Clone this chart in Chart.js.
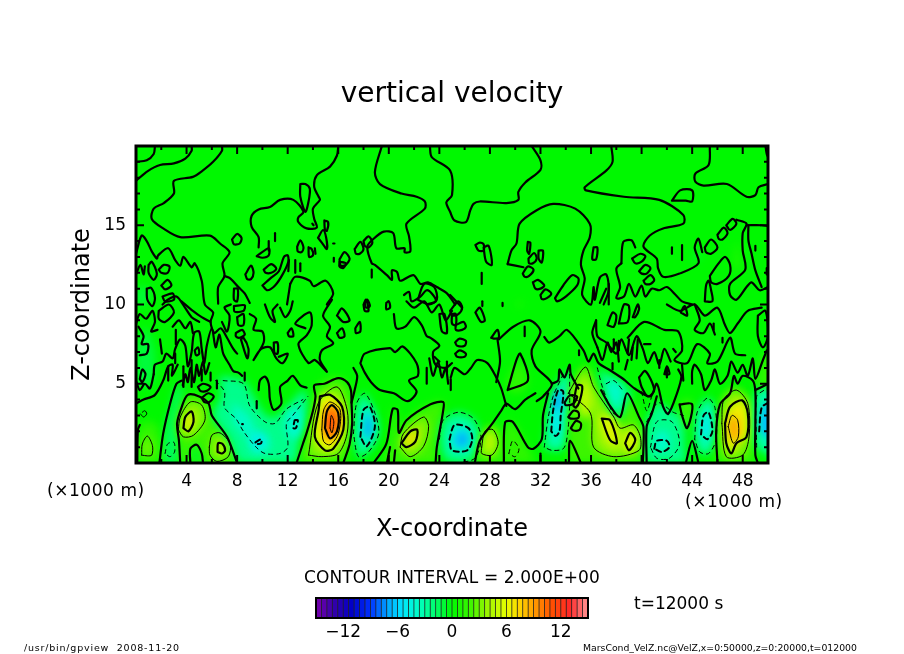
<!DOCTYPE html>
<html><head><meta charset="utf-8">
<script src="https://cdn.jsdelivr.net/npm/chart.js@4/dist/chart.umd.min.js"></script>
<style>
html,body{margin:0;padding:0;background:#fff;width:904px;height:654px;overflow:hidden}
canvas{position:absolute}
.t{position:absolute;font-family:"DejaVu Sans",sans-serif;color:#000;white-space:pre;line-height:1}
</style></head><body>
<canvas id="main" width="904" height="654" style="left:0;top:0;width:904px;height:654px"></canvas>
<canvas id="bar" width="320" height="56" style="left:296px;top:590px;width:320px;height:56px"></canvas>
<div class="t" style="left:47px;top:482px;font-size:17px;letter-spacing:.55px">(×1000 m)</div>
<div class="t" style="left:685px;top:493px;font-size:17px;letter-spacing:.55px">(×1000 m)</div>
<div class="t" style="left:304px;top:569px;font-size:17px;letter-spacing:.1px">CONTOUR INTERVAL = 2.000E+00</div>
<div class="t" style="left:634px;top:595px;font-size:17px">t=12000 s</div>
<div class="t" style="left:24px;top:643px;font-size:9.5px;letter-spacing:.8px">/usr/bin/gpview  2008-11-20</div>
<div class="t" style="left:583px;top:643px;font-size:9.3px">MarsCond_VelZ.nc@VelZ,x=0:50000,z=0:20000,t=012000</div>
<script>
// ---- axes ----
const xRange=[0,50], zRange=[0,20];
const xLabelEvery=4, zLabelEvery=5;
const barTicks=[-12,-6,0,6,12];
const barLevels=[-14.7,-14.1,-13.5,-12.9,-12.3,-11.7,-11.1,-10.5,-9.9,-9.3,-8.7,-8.1,-7.5,-6.9,-6.3,-5.7,-5.1,-4.5,-3.9,-3.3,-2.7,-2.1,-1.5,-0.9,-0.3,0.3,0.9,1.5,2.1,2.7,3.3,3.9,4.5,5.1,5.7,6.3,6.9,7.5,8.1,8.7,9.3,9.9,10.5,11.1,11.7,12.3,12.9,13.5,14.1,14.7];
// ---- colour scale: velocity, r, g, b ----
const colorStops=[[-15,120,0,170],[-13,50,0,170],[-11,0,0,200],[-9,0,50,255],[-7,0,170,255],[-5.5,0,230,255],[-3.5,0,255,190],[-1.5,0,252,90],[0,0,248,0],[2,60,245,0],[4,160,245,0],[6,230,255,0],[7.5,255,210,0],[9.5,255,140,0],[11,255,80,0],[13,255,40,40],[15,255,150,150]];
// ---- colour field: level of each region, region outline (x km, z km) ----
const fieldLevels=[0,-1,-1,-1,1,1,-1.5,1.5,3,2,-.5,3.5,6.5,3,6,-2.5,-3.8,-4,-5,2,3.5,6,7.5,9.5,11,12,-2.5,-4.5,-7.5,2,1.5,3.5,7,-2.5,-4.5,-7,1.5,2,4.5,-1.5,1.5,-3,-5.5,-7.5,2,3.5,5,4.5,4.5,6.5,6.5,-2.5,-4,-2.5,-4,2,-3,-5,2,3.5,6.5,9,-3,-6.5,1.5];
const fieldShapes=[
[-5,-5,55,-5,55,25,-5,25],
[0,7,.7,8.5,1.5,7,1.2,5,.2,5],[0,10,0,11,1,11,.8,10],[44,12.7,44.4,13.5,44.6,12.9],
[47.2,12.5,47.5,14,47.8,13,47.7,12],[30,10,30.5,10.3,30.5,9.8],
[2,0,2.2,1.8,2.8,3.7,3.3,5,3.7,4.4,3.4,2.5,3.4,0],
[.2,0,.2,2.2,.8,2.6,1.6,2.4,2,1,1.9,0],
[.45,.5,.5,1.2,.9,1.7,1.3,1.1,1.25,.5,.9,.45],
[3.5,0,3.4,1.4,3.25,2.5,3.6,3.5,4.1,4.3,5,4.2,5.75,3.75,6,3,7.2,1.65,8,0],
[4.3,0,4.3,.9,4.8,1.15,5.2,.6,5.3,0],
[3.35,2.1,3.5,2.9,4.3,3.85,5.2,3.65,5.45,2.7,4.55,1.75,3.75,1.65],
[3.75,2.2,3.9,2.9,4.4,3.25,4.55,2.6,4.15,2],
[5.8,1,6,1.75,6.65,1.9,7.45,1.2,7.3,.4,6.4,.1,5.85,.5],
[6.45,.7,6.5,1.25,6.85,1.2,7.05,.8,6.8,.6],
[6.6,5.5,8.5,5.2,9.3,4.2,10.3,3,11,2.9,12,3.6,13.3,4.6,13.6,3.5,13,1.8,12.5,0,8.3,0,7.3,1.6,6.1,3,6.7,4.2],
[7.6,3.8,8.9,3,9.4,2.2,10,1.8,10.5,1.6,10.5,.8,9.3,.6,8.7,1.6,7.8,2.5],
[11.9,3.2,12.9,3.5,13.2,2,12.4,1.5,11.9,2],
[9.2,1.6,9.9,1.9,10.2,1.3,9.4,.9],
[12.9,0,13.5,1.9,14,3.3,14.3,4.8,16,5.4,17,4.6,17.05,3.8,17.1,2.5,16.9,1.2,16.4,0],
[13.65,.5,14.4,3.75,15.9,4.8,16.7,3.35,16.7,1.85,16,.6,14.7,.4],
[14.55,4.2,15.35,4.3,16.3,3.55,16.4,2.1,15.6,.9,14.95,.8,14.15,1.65,14.45,3.35],
[14.7,2.1,14.85,3.35,15.35,3.85,16.15,3.35,16,1.85,15.35,1.15,14.85,1.35],
[14.95,2.2,15.1,3.25,15.5,3.65,16,3.15,15.9,2,15.35,1.55],
[15.1,2.4,15.35,3.45,15.75,3,15.6,1.85,15.3,1.8],
[15.35,2.2,15.45,3,15.65,2.6,15.5,1.9],
[17.2,1.85,17.45,3.75,18.1,4.4,18.9,3.15,19.2,1.85,18.4,.7,17.6,.4],
[17.75,1.65,18,3.35,18.5,3.55,18.9,2.3,18.25,1.05],
[18.15,1.9,18.3,3.15,18.6,2.3,18.4,1.5],
[19.5,0,20.8,1.9,21.4,2.7,23.3,3.7,24.3,3.85,24.3,3.3,23.8,1,23.7,0],
[19.9,0,20.3,3.4,20.7,3.35,20.8,0],
[20.9,1,21.15,1.85,22.75,2.9,23.15,2.3,22.75,1.05,21.7,.4],
[21,1.25,21.7,2,22.25,2.1,22.1,1.35,21.4,1],
[24,1.5,24.3,2.7,25.5,3.2,26.7,2.8,27.3,1.6,26.8,.3,25.5,0,24.4,.3],
[24.8,1.5,25.2,2.4,26.3,2.2,26.6,1.5,26.2,.8,25,.8],
[25.2,1.5,25.9,2,26.3,1.4,25.7,1],
[29.2,4.9,30.3,6.4,31,5,30,4.4],
[26.8,0,27.2,1.4,28.2,2.5,29,1.5,29,0],
[27.35,1,27.6,2,28.25,2.1,28.65,1.25,28.15,.5,27.35,.6],
[29.5,.6,29.8,1.4,30.3,.9,30,.4],
[29.1,0,29.2,2.5,29.9,2.5,31,1,31.5,0],
[32.3,1,32.6,2.8,33,4.2,33.8,5.6,34.3,5.6,34.3,3.5,34.1,1.6,33.8,.9,32.9,.8],
[32.85,2,33,3.3,33.4,4.6,33.8,4.5,33.6,3,33.5,2,33.2,1.7],
[33,3.4,33.3,4.6,33.6,4.4,33.4,3.4],
[34.3,0,34.2,3,34.8,5,35.7,6,36.4,5,37.2,3.2,38.3,2.8,38.9,4.2,40,2.5,40.1,0],
[34.2,4.4,35.55,6.05,36.2,4.8,37.8,2.9,38.3,2.2,39.35,2.4,39.9,1.65,39.8,.8,37.8,.4,36.2,1,35.95,3.15],
[35,4.2,35.5,5.3,36,4.2,35.8,2.9,35.2,3],
[36.4,3,37.7,3,38.5,1.4,38,.8,37,1.3],
[38.3,1.5,39,2.2,39.8,1.4,39,.5],
[36.85,2.8,37.5,2.7,38.05,1.25,37.5,1.45],
[38.7,1.25,39.1,1.9,39.5,1.45,39,.8],
[36.5,6,38.2,5.2,39.2,4.4,38.85,3.9,38.3,2.9,37.7,3.2,36.9,4.8],
[37.2,5,37.8,5.2,38.5,4.6,38,3.4,37.6,4],
[40.3,0,40.4,2.6,41.3,3.8,42.5,3.2,43.3,3,43.4,1,43.4,0],
[41,.9,41.2,1.9,42,2,42.2,1,41.6,.7],
[43.05,3.9,44,3.9,43.7,2.2,43.3,2.5],
[44.2,1.5,44.4,3.2,45.2,4.1,45.8,3.5,45.9,1.5,45.3,.6,44.6,.7],
[44.7,1.8,44.9,3,45.3,3.2,45.6,2,45.2,1.5],
[45.9,0,45.9,2,46.3,3.8,47.1,4.7,48.2,4.4,48.9,3.5,48.9,.5,48.7,0],
[46.35,2.5,46.5,4,47.5,4.6,48.4,3.75,48.5,1.65,48,.5,46.7,.4],
[46.6,2.5,47,3.55,47.95,3.95,48.4,3.15,48.3,1.65,47.5,1.25,47.1,.6,46.7,1.25],
[46.85,2.3,47.15,3,47.6,2.7,47.65,1.65,47.25,1.25],
[49,1,49,4.4,49.6,4.8,50.5,4.8,50.5,.5],
[49.3,2,49.5,3.5,50,3.8,50.5,3,50.5,1.5],
[49,4.8,49.6,6.8,50.5,6.8,50.5,5]
];
// ---- contour lines (x km, z km) ----
const upperLines=[
[0,19,.85,19.1,1.4,19.5,1.5,20],
[0,17.8,.9,18.4,1.9,18.8,3,18.9,3.9,19.2,4.4,19.7,4.4,20],
[6.8,20,6.8,19.7,6.1,19,5.2,18.4,4.5,18.05,3,17.8,3,17,2.2,16.4,1.4,16.05,1.25,15.4,2.15,14.8,3.5,14.25,5.85,14.35,6.65,13.85,7.4,13.3,6.85,12.6,7,11.8,6.5,11.1,6.5,10.05],
[7,11.8,7.45,11.65,8.1,11.1,8.6,10.7,9,10.1],
[9.7,13.6,9.7,14.25,9.15,14.9,9.15,15.6,9.7,16,10.6,16.15,11.4,16.6,12.45,16.6,13.25,15.85,12.85,15.5,12.85,15.2,13.5,14.8,14.3,14.85,14.1,15.4,14,16.05,14.55,16.6,14.45,16.8,14.1,17.4,14.3,18.15,15.35,18.7,15.9,19.4,16,20],
[19.45,20,18.9,18.35,19.3,17.6,21,17,22.2,16.8,22.85,16.5,22.85,16.05,21.4,15.1,21.6,14.3,21.7,13.35,21.25,13.3,21.25,13.55,20.6,13.55,20.35,14.5,19.6,14.6,18.8,14.15,18.3,13.65,18.65,12.6,18.9,12.5,19.85,11.85,20.25,11.55,20.25,12.15,20.65,12.05,20.9,11.5,21.95,11.85,22.5,11.3,23.1,11.4,23.8,11.1,24.6,10.7,25.25,10],
[23.25,20,23.4,19.3,24.85,18.45,25,16.9,24.55,16.45,24.85,15.85,25.2,15.3,26.1,15.2,26.45,15.95,26.7,16.35,27.2,16.5,29.3,16.4,30.25,16.6,30.25,17.1,30.8,17.7,32,18.5,32,19.1,31.3,20],
[29.4,12.55,29.7,13.4,30.1,13.85,30.35,15.1,31.7,15.95,33,16.35,34.75,16.05,35.9,15.1,35.9,14.25,35.4,13.4,35.2,12.5,35.5,11.65,35.3,10.6,36,10,36.2,11.1,36.3,10.3,36.7,11.7,37.2,11.9,37.4,10.9,37,10],
[29.4,12.55,30.65,12.35],
[37.6,20,37.7,19,37.2,18.45,35.5,17.4,35.6,17.2,38.6,16.8,41.4,16.6,43.3,15.65,43.3,15.1,41.7,14.8,40.65,14.35,40.15,13.65,41.2,12.9,41.3,12.3,41.7,11.75,43,11.95,44.5,12.6,44.2,13.6,44.5,14.15,44.8,13.3],
[45.4,20,45.3,18.8,44.25,18.25,44.25,17.75,44.9,17.5,46.75,17.6,48.3,16.8,49,16.9,49.25,17.4,50,17.6],
[49.8,20,49.9,19.5,50,19.3],
[47.5,15.35,48.3,15.1,48,14.5,48,13.4,48.2,12.2,47,11.3,47,10.6,47.5,10.3,48.3,11.1,48.7,11.4,49.35,10.9,50,11.1],
[48.3,15,49.5,15,50,14.95],
[48.45,15,48.45,14.05,48.7,13.2,49,12.15,49.5,11.1],
[38.4,12.6,38.55,13.95,39.2,14.05,39.5,13.6],
[38.4,12.6,38,12.25,38.3,11.1,38,10.4,38.6,10.5,39,11.3,39.5,10.5,40,11.2,40.3,10.5,40.8,11,41.4,10.9,42,11.1,42.7,10.6,43.2,10.2,44,10],
[12.2,11.3,12.6,11.75,13.75,11.5,14.05,11.15,15,11.5,15.6,10.7,15.1,10,15.5,10.3,14.8,9.3,15.35,8.6,15.1,8,15.6,7.55,14.7,7.1,14.55,6.5,15.1,5.75,14.15,6.5,13.65,6.3,12.85,7.5,13.5,8.05,13.9,8.7,13.75,9.5,12.6,8.8,13.4,8.5],
[12.2,11.3,11.95,10],
[0,13.2,.45,14.35,.85,14,1.25,13.35,1.65,12.9,1.75,13.1,2.55,13.55,3.1,12.8,3.5,12.45,3.75,13,4.4,12.35,4.65,12.6,5.2,11.5,5.45,10,6.1,9.5,5.9,8.9,6.2,8.2,6.7,8.5,7.2,7.9,7.7,7.2,8,6.9],
[0,11.9,.35,12.5,.6,11.9,.7,12.4],
[21.2,10.6,21.6,10.8,21.8,10.2,22.5,10.5,23,10.9,23.5,10.6,23.7,10.2,23,10],
[24.85,10.6,25.8,9.8]
];
const middleLines=[
[0,3.75,.6,4,1.5,4.3,2.15,5.2,2.55,6.1,2.9,6.2,2.85,5.5,3.3,6.2],
[1.4,5.6,1.5,6.2,2.1,6.4,2.4,6.9,2.9,6.6,3.1,7.2,3.5,7.8,3.9,7.4,4.1,6.1,4.4,7,4.6,8.2,5,8.3,5.2,7.2,5.4,6.3,5.6,7.4,6,8.5,6.3,7.3,6.6,8.1,6.9,6.9,7.4,6.2,7.7,5.8,8.1,5.7,8.4,5.5],
[.2,8.6,.6,8,.45,7.5,.95,7.5,.85,6.9,.3,6.8],
[3.7,4.9,3.9,5.6,4.1,5.1,4.3,6,4.6,5.1,4.8,6.2,5,5.5,5.3,6.4,5.5,5.6,5.8,6.3],
[0,8.8,.3,9.4,.8,9.1,1.3,9.6,1.5,8.9,1.2,8.3,1.7,8.4],
[0,5.2,.3,4.6,.7,5,1.1,4.7,1.4,5.6],
[2.9,8.6,3.4,9,3.9,8.5,4.3,8.9,4.5,8.2],
[6.8,8.9,7.2,8.3,7.4,9.3,7,9.8,7.5,10],
[9,9.4,9.5,9.1,9.3,8.4,10,8.3,10.1,7.6,9.3,6.5,9.9,7.2,10.6,7.3,11.1,6.6,11.6,6.3,12,6.9,11.3,6.7],
[10.2,10,10.6,9.2,11,8.9,10.8,9.6,11.2,10],
[11.4,9.8,11.8,9.2,12.2,9.6,12.4,10.2],
[3.6,10.2,4.5,9.6,5.2,9.2,5.9,8.9],
[2.1,10,2.5,10.3,3.2,10.5,3.8,9.9,4.4,9.2,5,8.9],
[20.4,9.4,20.6,8.5,21.3,8.6,22,9.2,22.6,8.7,23,8,23.3,7.9,24,7.4,23.5,7,23.7,6.2,24.5,6,25,6.3],
[21.4,10.2,22,9.8,22.8,10.2,23.4,9.5,24,10,24.5,9,25,9.6],
[24.9,5.4,25.2,6,26,5.6,26.5,6,27,6.5,27.8,6.3,28.5,5.4,28.9,4.7,29.3,3.6],
[28.7,7.8,29.85,8.6,31.15,9,32,8.3,31.3,7.1,31.6,6.1,32.9,5,32.2,4.2,31.7,3.9],
[28.6,7.8,28.8,6.4,28.5,5.1],
[29.4,4.6,30.1,6.5,30.4,6.9,31,5.2,29.4,4.6],
[32.3,7.95,32.7,7.6,33.5,8,34.1,8.4,35.4,7.1,35.8,6.4,36.2,6.9,36.6,6.3,37.5,5.85,38.55,5.3,39.45,4.7,40.7,4.2,41.2,5,41.7,3.55,42.1,3.1,42.8,4.4,43.15,5.45,42.9,5.9],
[32.9,5,33.4,5.2,33.5,5.9,33.9,5.4,34.3,6.2,34.4,5.6,35,4.7],
[36.4,9,36.1,8.2,36.5,7.3],
[36.4,9,36.5,8,37.2,7.6,38,6.9,38.4,7.8,39,6.8,39.6,8,40.1,7.2,40.5,6.3,41,7,41.4,6.2,41.8,7.2,42.3,6.4],
[38.9,7.9,40.2,8.9,41.8,8.4,42.9,8.3,43.2,7.1,42.6,6.5,43.6,6.3,44.4,7.5,45.4,6.9,45.2,6.3,46,6.4,47,7.9,47.4,6.9,48.2,6.8],
[42,10,43,9.6,44.2,10,45,9.3,46,9.8,46.6,8.7,47,8.2,47.6,8.8,48.4,9.6,49.5,9.8],
[44.2,10,44.6,9,44.2,8.4,44.9,8.2,45.4,8.8,45.8,8.1],
[44,5,44,5.8,44.2,6.2,44.7,5.6,45,4.6,45.5,5.2,45.8,5.9,46.2,5,46.8,5.5,47.1,6.4,47.6,5.7,48,6.2,48.4,5.5,48.8,6.6,49,5.3,49.6,6.5,49.9,7.1],
[36.5,7.3,36.9,6.5,37.3,7.6,37.6,7,38,7.6,38.2,6.4],
[23.2,6.6,23.5,5.5,23.9,6.4,24.2,5.4,24.5,6,24.7,5]
];
const lowerLines=[
[1.85,0,2.15,1.85,2.7,3.75,3.2,5,3.6,5.2],
[3.5,0,3.4,1.4,3.25,2.5,3.6,3.5,4.1,4.3,5,4.2,5.75,3.75,6,3,7.2,1.65,8,0],
[4.3,0,4.3,.9,4.8,1.15,5.2,.6,5.3,0],
[9.7,4.6,9.8,5.2,10.2,5.45,10.5,5,10.6,4,10.9,3.35,11.5,3.75,11.4,4.8,12,5.2,12.4,5.5,13,4.9,13.5,4.75],
[12.7,0,13.2,1.2,13.5,1.9,14,3.3,14.2,4.2,14.1,4.9,14.9,5,16,5.35,16.7,5.1,17,4.6,17.05,3.8,17.1,2.5,16.9,1.2,16.4,0],
[18.8,0,19.8,1.2,20.3,3.4,20.7,3.35,20.8,1.9,21.4,2.7,23.3,3.7,24.3,3.85,24.3,3.3,23.8,1,23.7,0],
[19.85,0,20.1,1],[20.4,0,20.5,.8],
[26.8,0,27.2,1.4,28.2,2.5,28.9,3.3,29.3,3.75,30,3.4,30.8,4,31.6,4.4],
[29.1,0,29.2,2.55,29.8,2.6,31,1,31.45,.9,32.1,1.5,32.2,3,32.6,4.4],
[32,0,32,.6],
[34.25,0,34.35,1.4,35.2,0],
[36.8,4.6,37.5,3.6,38.3,2.9,38.85,4.4,39.8,2.9,40.15,2.25,40.1,0],
[40.4,0,40.4,2.3,40.8,3.1,41.2,4.2],
[43.5,0,44,1.4,44.5,0],
[46,0,45.9,2,46.2,3.7,47,4.4,47.3,5.5,47.6,5,48,5.5,48.8,5.2,49,4.5,49,2.5,49,.5,49.2,0],
[49,4.6,50,5],
[17.05,3.8,17.3,4.6,17.5,5.5,17.2,6],
[.1,0,.15,2.1,.3,2.4]
];
const closedThick=[
[13,17.6,13.4,17.6,13.75,17.3,13.65,16.5,13.4,15.85,13,16.8],
[7.6,14.1,8,14.45,8.35,14.2,8.2,13.85,7.75,13.8],
[12.75,13.65,13,14.05,13.25,13.6,13.1,13.3,12.8,13.35],
[13.65,13.6,13.9,13.5,14,13.1,13.7,13],
[14.9,15.3,15.2,15.2,15.1,14.65,14.95,14.7],
[14.4,14.2,14.8,14.7,15.05,14.2,15.1,13.5,14.7,13.9],
[16.1,12.85,16.5,13.3,16.9,12.9,16.6,12.5,16.2,12.45],
[16.1,12.7,16.6,12.6,16.4,12.3,16.1,12.4],
[17.3,13.5,17.75,13.95,18,13.5,17.7,13.2,17.4,13.2],
[18,14,18.4,14.3,18.7,13.9,18.4,13.6,18.1,13.7],
[1,12.5,1.25,12.7,1.65,11.95,1.4,11.55,1,12],
[1.8,12.2,2.2,12.5,2.65,12.4,2.5,12,2,12],
[2,11.2,2.5,11.55,2.8,11.2,2.3,10.95],
[2.1,10.5,2.9,10.7,3,10.3,2.3,10.2],
[.85,11,1.2,11.05,1.5,10.4,1.3,9.9,.9,10.3],
[7.75,11,8.05,11,8,10.2,7.75,10.3],
[7.75,9.9,8.6,9.95,8.5,9.6,7.8,9.55],
[8.65,11.9,9.1,12.45,9.3,12,9.1,11.6,8.8,11.6],
[9.55,13.05,10.5,13.55,10.5,13.1,10,12.95],
[10.1,12.2,10.7,12.55,11.1,12.25,10.7,12,10.25,12],
[10,11.2,10.7,11.7,11.3,12.1,11.7,13,12,13.1,12.05,12.7,11.6,11.9,11,11.2,10.4,10.9],
[22.3,10.3,22.8,11.3,23.6,11.1,23.8,10.3,23.2,10],
[26.85,13.75,27.2,13.9,27.5,13.8,27.5,13.4,27.1,13.4],
[27.5,13.6,27.9,13.7,28.15,12.5,27.7,12.7],
[31,13.95,31.2,13.9,31.1,13.2,30.95,13.4],
[31.05,12.9,31.5,13.25,31.7,12.9,31.4,12.6,31.1,12.6],
[31.85,13.4,32.2,13.4,32.1,12.65,31.85,12.9],
[30.6,11.95,31,12.4,31.45,12.2,31.1,11.8,30.75,11.75],
[31.4,11.4,31.8,11.55,32.3,11.2,32,11,31.6,11],
[32,10.6,32.4,10.95,32.85,10.7,32.5,10.4,32.1,10.35],
[33.15,10.4,33.8,11.2,34.5,11.85,35,11.65,34.9,11.2,34,10.5,33.3,10.2],
[36.2,13.6,36.5,13.6,36.4,12.85,36.1,12.85],
[39.25,12.9,39.9,13.2,40.3,13.05,40,12.7,39.5,12.6],
[39.8,12.1,40.3,12.5,40.7,12.3,40.4,11.95,40,11.95],
[40.15,11.5,40.7,11.85,41,11.55,40.7,11.3,40.3,11.3],
[45,13.6,45.5,14.1,46,13.6,45.5,13.2,45.1,13.3],
[46,14.4,46.5,14.85,46.8,14.5,46.4,14.1,46.1,14.15],
[46.7,15,47.2,15.4,47.5,15.1,47,14.7],
[45.4,11.8,46,12.5,46.6,13,47,12.5,46.9,11.8,46,11.3,45.5,11.4],
[45,10.2,45.1,11.2,45.3,11.5,45.5,10.9,45.6,10.2],
[42.4,16.55,43.05,17.2,44,17.2,44,16.5,43.5,16.55],
[18.1,10.1,18.3,10.3,18.5,9.9,18.2,9.8],
[.3,5.3,.5,5.9,.75,5.6,.5,5.1],
[4.9,4.8,5.3,5,5.9,4.8,5.6,4.55,5.1,4.55],
[5.2,4.1,5.7,4.4,6.15,4.2,5.8,3.85,5.4,3.85],
[4.65,7.1,4.9,7.3,5,6.9,4.75,6.8],
[7.9,8.2,8.4,8.4,8.6,8.1,8.2,7.9,7.9,8],
[8,9.2,8.5,9.4,8.5,8.7,8.1,8.7],
[8.3,7.8,8.8,6.6,8.9,7.2,8.5,7.9],
[10.9,7.6,11.2,7.6,11.2,6.9,10.95,6.95],
[15.9,9.3,16.3,9.75,16.9,9,16.4,8.9],
[12,8.2,12.3,8.5,12.45,8,12.1,8],
[17.35,8.5,17.7,8.9,17.75,8.3,17.4,8.2],
[15.9,8.2,16.3,8.5,16.5,8,16.1,7.9],
[18,10,18.2,10.3,18.4,9.6,18.1,9.6],
[19.8,10.1,20,10.2,20.1,9.8,19.8,9.7],
[1.8,9.6,2.6,10,3,9.5,2.3,8.9,1.8,9.1],
[24,9.4,24.4,9.4,24.6,8.2,24.2,8.3],
[25,9.4,25.3,9.4,25.3,8.7,25,8.8],
[25.3,8.7,25.9,8.9,26.1,8.6,25.8,8.4,25.3,8.4],
[25.25,7.6,25.6,7.85,26.1,7.7,26,7.4,25.4,7.4],
[25.25,6.9,25.6,7.1,26.1,6.9,26,6.7,25.4,6.7],
[24.85,9.6,25.5,10.2,25.8,9.8,25.5,9.4,25,9.3],
[26.85,9.5,27.2,9.8,27.6,9,27.3,8.9],
[28.1,7.9,28.6,8.4,28.7,7.9,28.3,7.85],
[33.9,3.8,34.3,4.25,34.9,4.2,34.6,3.75,34,3.65],
[34.6,3.6,34.9,4.9,35.3,4.85,35.1,3.9,34.8,3.5],
[34.2,2.9,34.6,3.3,35,3.2,35,2.85,34.4,2.8],
[34.4,2.2,34.8,2.65,35.2,2.5,35.1,2.1,34.6,2.05],
[37.3,8.7,37.7,9.5,38,9.3,37.8,8.6],
[38.2,8.8,38.6,10,39,9.9,38.9,8.9],
[39.3,9.2,39.7,10,39.8,9.7,39.5,9.2],
[43.1,9.5,43.4,9.9,43.6,9.3],
[49.2,9.3,49.8,9.6,50,8,49.6,7.3,49.2,8],
[39.8,5.4,40.3,5.8,41,4.6,40.5,4.2,40,4.8],
[41.8,5.6,42,6.1,42.2,5.6],
[43,3.7,44,3.7,43.6,2.2,43.2,3],
[17.75,6.3,18.1,6.9,20.1,7.25,20.5,7,21.1,7.35,22.2,6.3,22.3,5.5,21.6,5.2,22.2,4.5,21.5,3.9,20.4,4.4,19.3,4.6,18.6,5.1,18.1,5.7],
[3.75,2.2,3.9,2.9,4.4,3.25,4.55,2.6,4.15,2],
[6.45,.7,6.5,1.25,6.85,1.2,7.05,.8,6.8,.6],
[14.55,4.2,15.35,4.3,16.3,3.55,16.4,2.1,15.6,.9,14.95,.8,14.15,1.65,14.45,3.35],
[14.95,2.2,15.1,3.25,15.5,3.65,16,3.15,15.9,2,15.35,1.55],
[21,1.25,21.7,2,22.25,2.1,22.1,1.35,21.4,1],
[36.85,2.8,37.5,2.7,38.05,1.25,37.5,1.45],
[38.7,1.25,39.1,1.9,39.5,1.45,39,.8],
[46.6,2.5,47,3.55,47.95,3.95,48.4,3.15,48.3,1.65,47.5,1.25,47.1,.6,46.7,1.25]
];
const closedThin=[
[.45,.5,.5,1.2,.9,1.7,1.3,1.1,1.25,.5,.9,.45],
[3.35,2.1,3.5,2.9,4.3,3.85,5.2,3.65,5.45,2.7,4.55,1.75,3.75,1.65],
[5.8,1,6,1.75,6.65,1.9,7.45,1.2,7.3,.4,6.4,.1,5.85,.5],
[13.65,.5,14.4,3.75,15.9,4.8,16.7,3.35,16.7,1.85,16,.6,14.7,.4],
[14.7,2.1,14.85,3.35,15.35,3.85,16.15,3.35,16,1.85,15.35,1.15,14.85,1.35],
[15.35,2.2,15.45,3,15.65,2.6,15.5,1.9],
[20.9,1,21.15,1.85,22.75,2.9,23.15,2.3,22.75,1.05,21.7,.4],
[27.35,1,27.6,2,28.25,2.1,28.65,1.25,28.15,.5,27.35,.6],
[34.2,4.4,35.55,6.05,36.2,4.8,37.8,2.9,38.3,2.2,39.35,2.4,39.9,1.65,39.8,.8,37.8,.4,36.2,1,35.95,3.15],
[46.35,2.5,46.5,4,47.5,4.6,48.4,3.75,48.5,1.65,48,.5,46.7,.4],
[46.85,2.3,47.15,3,47.6,2.7,47.65,1.65,47.25,1.25]
];
const openThin=[[.35,3.1,.6,2.9,.85,3.1,.7,3.3,.5,3.2]];
const dashedThin=[
[2.3,.6,2.5,1.2,3,1.3,3.05,.7,2.7,.4,2.3,.6],
[6.3,5.2,7,4.5,7,3.5,7.9,2.8,8.5,2,9.5,1,10.2,.6,11.4,.6,12,1,11.9,2.5,12.4,3,13.3,3.9,13.6,4.2],
[6.9,5.2,8.5,5,9,3.6,10.2,2.6,11,2.5,11.9,3.4,13.2,4],
[17.2,1.85,17.45,3.75,18.1,4.4,18.9,3.15,19.2,1.85,18.4,.7,17.6,.4,17.2,1.85],
[24,1.5,24.3,2.7,25.5,3.2,26.7,2.8,27.3,1.6,26.8,.3,25.5,0],
[29.5,.6,29.8,1.4,30.3,.9,30,.4,29.5,.6],
[32.3,1,32.6,2.8,33,4.2,33.8,5.6],
[34.3,5.6,34.3,3.5,34.1,1.6,33.8,.9,32.9,.8,32.3,1],
[36.5,6,36.9,4.8,37.7,3.2,38.3,2.9],
[40.4,2.6,41.3,3.8,42.5,3.2,43.3,3],
[40.7,1,41.2,2.6,42.4,2.6,43,1.2,42.2,.3,41.2,.3,40.7,1],
[44.2,1.5,44.4,3.2,45.2,4.1,45.8,3.5,45.9,1.5,45.3,.6,44.6,.7,44.2,1.5],
[49.1,1,49.1,4.2,49.7,4.6],[37.2,5,37.8,5.2,38.5,4.6],[40,4.5,40.4,3.3,40.8,4.2]
];
const dashedThick=[
[12.55,2.7,12.8,2.7,12.65,2.2,12.45,2.2,12.55,2.7],
[9.45,1.3,9.9,1.5,9.9,1.25,9.5,1.2,9.45,1.3],
[17.75,1.65,18,3.35,18.5,3.55,18.9,2.3,18.25,1.05,17.75,1.65],
[24.8,1.5,25.2,2.4,26.3,2.2,26.6,1.5,26.2,.8,25,.8,24.8,1.5],
[32.85,2,33,3.3,33.4,4.6,33.8,4.5,33.6,3,33.5,2,33.2,1.7,32.85,2],
[41,.9,41.2,1.4,42,1.4,42.2,1,41.6,.7,41,.9],
[44.7,1.8,44.9,3,45.3,3.2,45.6,2,45.2,1.5,44.7,1.8],
[49.3,2,49.5,3.5,50,3.8]
];
const shortMarks=[
[11,14.5,11,14],[14.15,13.55,14.2,13.2],[15.65,12.95,15.65,12.7],[18.65,12.2,18.65,11.7],[10.5,14,10.5,13.4],
[12.05,12.1,12.1,12.8],[12.6,12.8,12.6,12],[13,12.6,13,12.1],[15.6,13.85,15.7,13.85],[13.95,15.1,14.05,15],
[42.4,13.6,42.4,13.2],[43.2,13.75,43.2,12.8],[49,13.7,49,13.4],[49.9,12.3,49.9,11.9],[27.35,12,27.35,11.3],[27.4,9.9,27.4,10.2],[29,9.9,29,10.1],
[37.4,10,37.4,11.3],[36.7,10.1,37.2,11],[1.9,7.8,2.05,6.9],[3.15,8.4,3.15,7.5],[3.1,6.9,3.1,6.3],[2.55,6.1,2.55,5.2],
[3.75,6.1,3.75,4.8],[4.4,6.5,4.4,4.8],[5.2,5.9,5.2,5.2],[5.9,5.7,5.9,5.2],[6.4,5.2,6.4,4.7],[8.6,5.7,8.6,5.2],[9.55,3.9,9.55,3.45],[8.4,2.45,8.45,2.45],
[23,6,23,5],[23.6,6.7,24,6.4],[24.6,6.4,24.6,5.7],[24.9,5.3,24.9,4.6],[30.75,8.6,30.75,8],[35.05,7.1,35.05,6.8],
[37.8,7.8,37.8,7.2],[38.2,7.7,38.2,7.1],[38.9,6.9,39,7.8],[39.6,6.6,39.7,7.8],[39.2,6.5,39.3,7.3],[40.2,7.5,40.7,7.5],[37.7,6.3,37.7,5.9],[38.7,5.9,38.9,6.5],
[42,6,42,5.4],[41.4,6.5,41.4,6],[42.5,7.2,42.7,7],[45.7,8.8,45.7,8.4],[46.4,7.9,46.4,7.6],[43.2,6.2,43.3,5.2]
];
// ---- builders ----
const pts=a=>{const o=[];for(let i=0;i<a.length;i+=2)o.push({x:a[i],y:a[i+1]});return o;};
const closed=a=>a.concat([a[0],a[1]]);
function colorOf(v){
  for(let i=1;i<colorStops.length;i++){
    const a=colorStops[i-1],b=colorStops[i];
    if(v<=b[0]){const t=(v-a[0])/(b[0]-a[0]);return `rgb(${[1,2,3].map(k=>Math.round(a[k]+(b[k]-a[k])*t)).join(',')})`;}
  }
  return 'rgb(255,150,150)';
}
const base={showLine:true,pointRadius:0,pointHitRadius:0,borderColor:'#000',backgroundColor:'transparent',fill:false,tension:.3,borderJoinStyle:'round',borderCapStyle:'round'};
const datasets=[];
const addLine=(a,w,dash)=>datasets.push({...base,data:pts(a),borderWidth:w,borderDash:dash||[],order:0});
upperLines.concat(middleLines,lowerLines,shortMarks).forEach(a=>addLine(a,2.2));
closedThick.forEach(a=>addLine(closed(a),2.2));
closedThin.forEach(a=>addLine(closed(a),1));
openThin.forEach(a=>addLine(a,1));
dashedThin.forEach(a=>addLine(a,1,[4,4]));
dashedThick.forEach(a=>addLine(a,2,[5,4]));
fieldShapes.forEach((a,i)=>datasets.push({...base,data:pts(closed(a)),borderWidth:0,fill:'shape',backgroundColor:colorOf(fieldLevels[i]),order:1000-i}));
const lastField=datasets.length-1;
const drawPlugin={id:'draw',
  beforeDatasetsDraw(c){c.ctx.filter='blur(4px)';},
  afterDatasetDraw(c,a){if(a.index===lastField)c.ctx.filter='none';},
  afterDatasetsDraw(c){
    const {ctx,chartArea:r,scales:{x,y}}=c;
    ctx.save();ctx.filter='none';ctx.strokeStyle='#000';ctx.lineWidth=2;
    ctx.beginPath();
    x.ticks.forEach(t=>{const p=x.getPixelForValue(t.value),l=t.value%xLabelEvery===0?8:4;
      ctx.moveTo(p,r.top);ctx.lineTo(p,r.top+l);ctx.moveTo(p,r.bottom);ctx.lineTo(p,r.bottom-l);});
    y.ticks.forEach(t=>{const p=y.getPixelForValue(t.value),l=t.value%zLabelEvery===0?8:4;
      ctx.moveTo(r.left,p);ctx.lineTo(r.left+l,p);ctx.moveTo(r.right,p);ctx.lineTo(r.right-l,p);});
    ctx.stroke();ctx.lineWidth=3;ctx.strokeRect(r.left,r.top,r.width,r.height);ctx.restore();
  }};
const font=s=>({family:'"DejaVu Sans",sans-serif',size:s,weight:'normal',lineHeight:1.2});
new Chart(document.getElementById('main'),{type:'scatter',data:{datasets},plugins:[drawPlugin],options:{
  responsive:false,animation:false,devicePixelRatio:1,normalized:false,
  layout:{padding:0},
  plugins:{legend:{display:false},tooltip:{enabled:false},
    title:{display:true,text:'vertical velocity',color:'#000',font:font(28),padding:{top:78,bottom:34.4}}},
  scales:{
    x:{type:'linear',min:xRange[0],max:xRange[1],position:'bottom',
      grid:{drawOnChartArea:false,drawTicks:false},border:{display:false},
      ticks:{stepSize:2,autoSkip:false,maxRotation:0,padding:8,color:'#000',font:font(17),callback:v=>(v%xLabelEvery===0&&v!==xRange[0])?String(v):''},
      title:{display:true,text:'X-coordinate',color:'#000',font:font(24),padding:{bottom:110,top:0}},
      afterFit(s){s.height=191;}},
    y:{type:'linear',min:zRange[0],max:zRange[1],position:'left',
      grid:{drawOnChartArea:false,drawTicks:false},border:{display:false},
      ticks:{stepSize:1,autoSkip:false,padding:10,color:'#000',font:font(17),callback:v=>(v%zLabelEvery===0&&v!==zRange[0]&&v!==zRange[1])?String(v):''},
      title:{display:true,text:'Z-coordinate',color:'#000',font:font(24),padding:{top:68,bottom:0}},
      afterFit(s){s.width=136;}},
    yRight:{type:'linear',min:zRange[0],max:zRange[1],position:'right',
      grid:{display:false,drawTicks:false},border:{display:false},ticks:{display:false},
      afterFit(s){s.width=136;}}
  }}});
const barBack={id:'barBack',beforeDatasetsDraw(c){const r=c.chartArea,x=c.ctx;x.save();x.fillStyle='#222';x.fillRect(r.left,r.top,r.width,r.height);x.restore();},
  afterDatasetsDraw(c){const r=c.chartArea,x=c.ctx;x.save();x.strokeStyle='#000';x.lineWidth=2;x.strokeRect(r.left,r.top,r.width,r.height);x.restore();}};
new Chart(document.getElementById('bar'),{type:'bar',
  data:{datasets:[{data:barLevels.map(v=>({x:v,y:1})),backgroundColor:barLevels.map(colorOf),barPercentage:.85,categoryPercentage:1,borderWidth:0}]},
  plugins:[barBack],
  options:{responsive:false,animation:false,devicePixelRatio:1,
    layout:{padding:{left:20,right:28,top:8,bottom:0}},
    plugins:{legend:{display:false},tooltip:{enabled:false}},
    scales:{
      x:{type:'linear',min:-15,max:15,offset:false,grid:{display:false,drawTicks:false},border:{display:false},
        afterBuildTicks(s){s.ticks=barTicks.map(value=>({value}));},
        ticks:{autoSkip:false,maxRotation:0,padding:4,color:'#000',font:font(17),callback:v=>String(v).replace('-','\u2212')},
        afterFit(s){s.height=28;}},
      y:{min:0,max:1,display:false}
    }}});
</script>
</body></html>
